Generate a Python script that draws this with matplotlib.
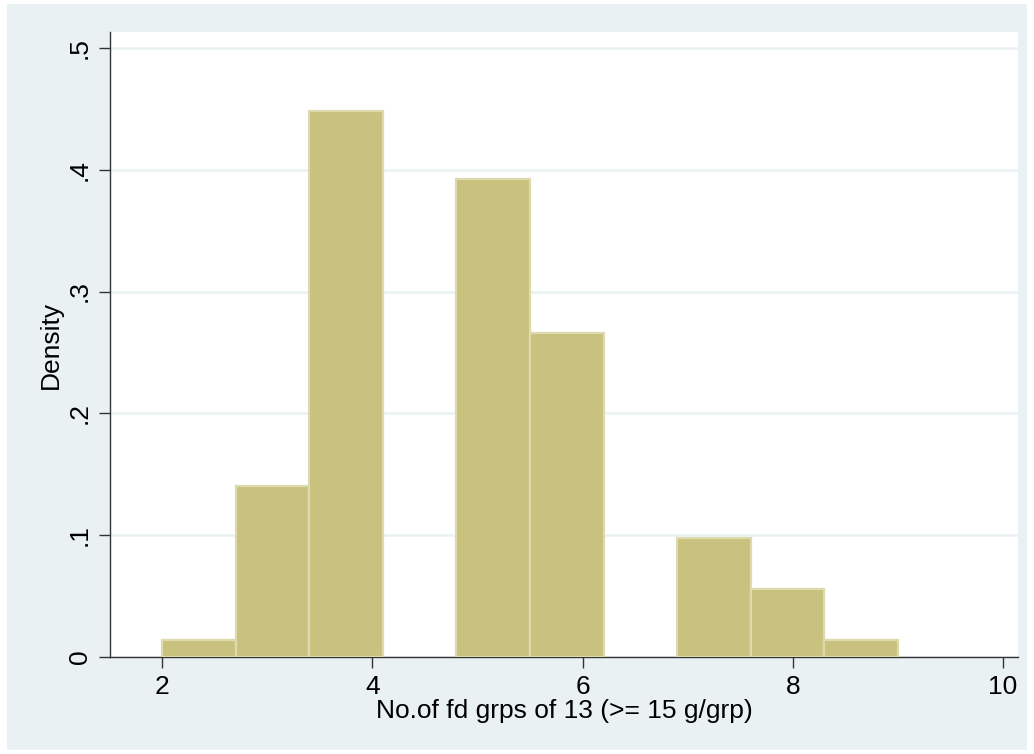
import numpy as np
import matplotlib
matplotlib.use('Agg')
import matplotlib.pyplot as plt
from matplotlib.patches import Rectangle

# histogram bins (width 0.7 starting at 2) and observation counts per bin
bin_edges = [2.0, 2.7, 3.4, 4.1, 4.8, 5.5, 6.2, 6.9, 7.6, 8.3, 9.0]
bin_counts = [1, 10, 32, 0, 28, 19, 0, 7, 4, 1]

x_ticks = [2, 4, 6, 8, 10]
y_ticks = [0, 0.1, 0.2, 0.3, 0.4, 0.5]
y_tick_labels = ['0', '.1', '.2', '.3', '.4', '.5']

x_label = 'No.of fd grps of 13 (>= 15 g/grp)'
y_label = 'Density'

plt.rcParams['font.family'] = ['Liberation Sans', 'DejaVu Sans']

bg = '#EAF1F3'
fig = plt.figure(figsize=(10.34, 7.54), dpi=100, facecolor='white')
fig.patches.append(Rectangle((7 / 1034, 4 / 754), 1020 / 1034, 746 / 754,
                             transform=fig.transFigure, facecolor=bg,
                             edgecolor='none', zorder=-10))

ax = fig.add_axes([110 / 1034, 97 / 754, 908 / 1034, 625 / 754])
ax.set_facecolor('white')

lefts = np.array(bin_edges[:-1])
_, _, bars = ax.hist(lefts, bins=bin_edges, weights=bin_counts, density=True,
                     color='#C8C27E', edgecolor='#DDDAAE', linewidth=1.6,
                     zorder=3)
# empty bins would otherwise leave an edge line on the baseline
for bar, c in zip(bars, bin_counts):
    if c == 0:
        bar.set_visible(False)

ax.set_xlim(1.505, 10.143)
ax.set_ylim(0, 0.513)

ax.set_xticks(x_ticks)
ax.set_yticks(y_ticks)
ax.set_yticklabels(y_tick_labels, rotation=90, va='center')
ax.tick_params(axis='both', labelsize=19, length=8, width=1, color='#333333',
               direction='out', pad=5)

ax.yaxis.grid(True, color=bg, linewidth=1.8, zorder=1)
ax.set_axisbelow(True)

for side in ['top', 'right']:
    ax.spines[side].set_visible(False)
for side in ['left', 'bottom']:
    ax.spines[side].set_color('#333333')
    ax.spines[side].set_linewidth(1.0)

ax.set_xlabel(x_label, fontsize=19, labelpad=0)
ax.set_ylabel(y_label, fontsize=19, labelpad=4)

fig.savefig('out.png', dpi=100, facecolor=fig.get_facecolor())
